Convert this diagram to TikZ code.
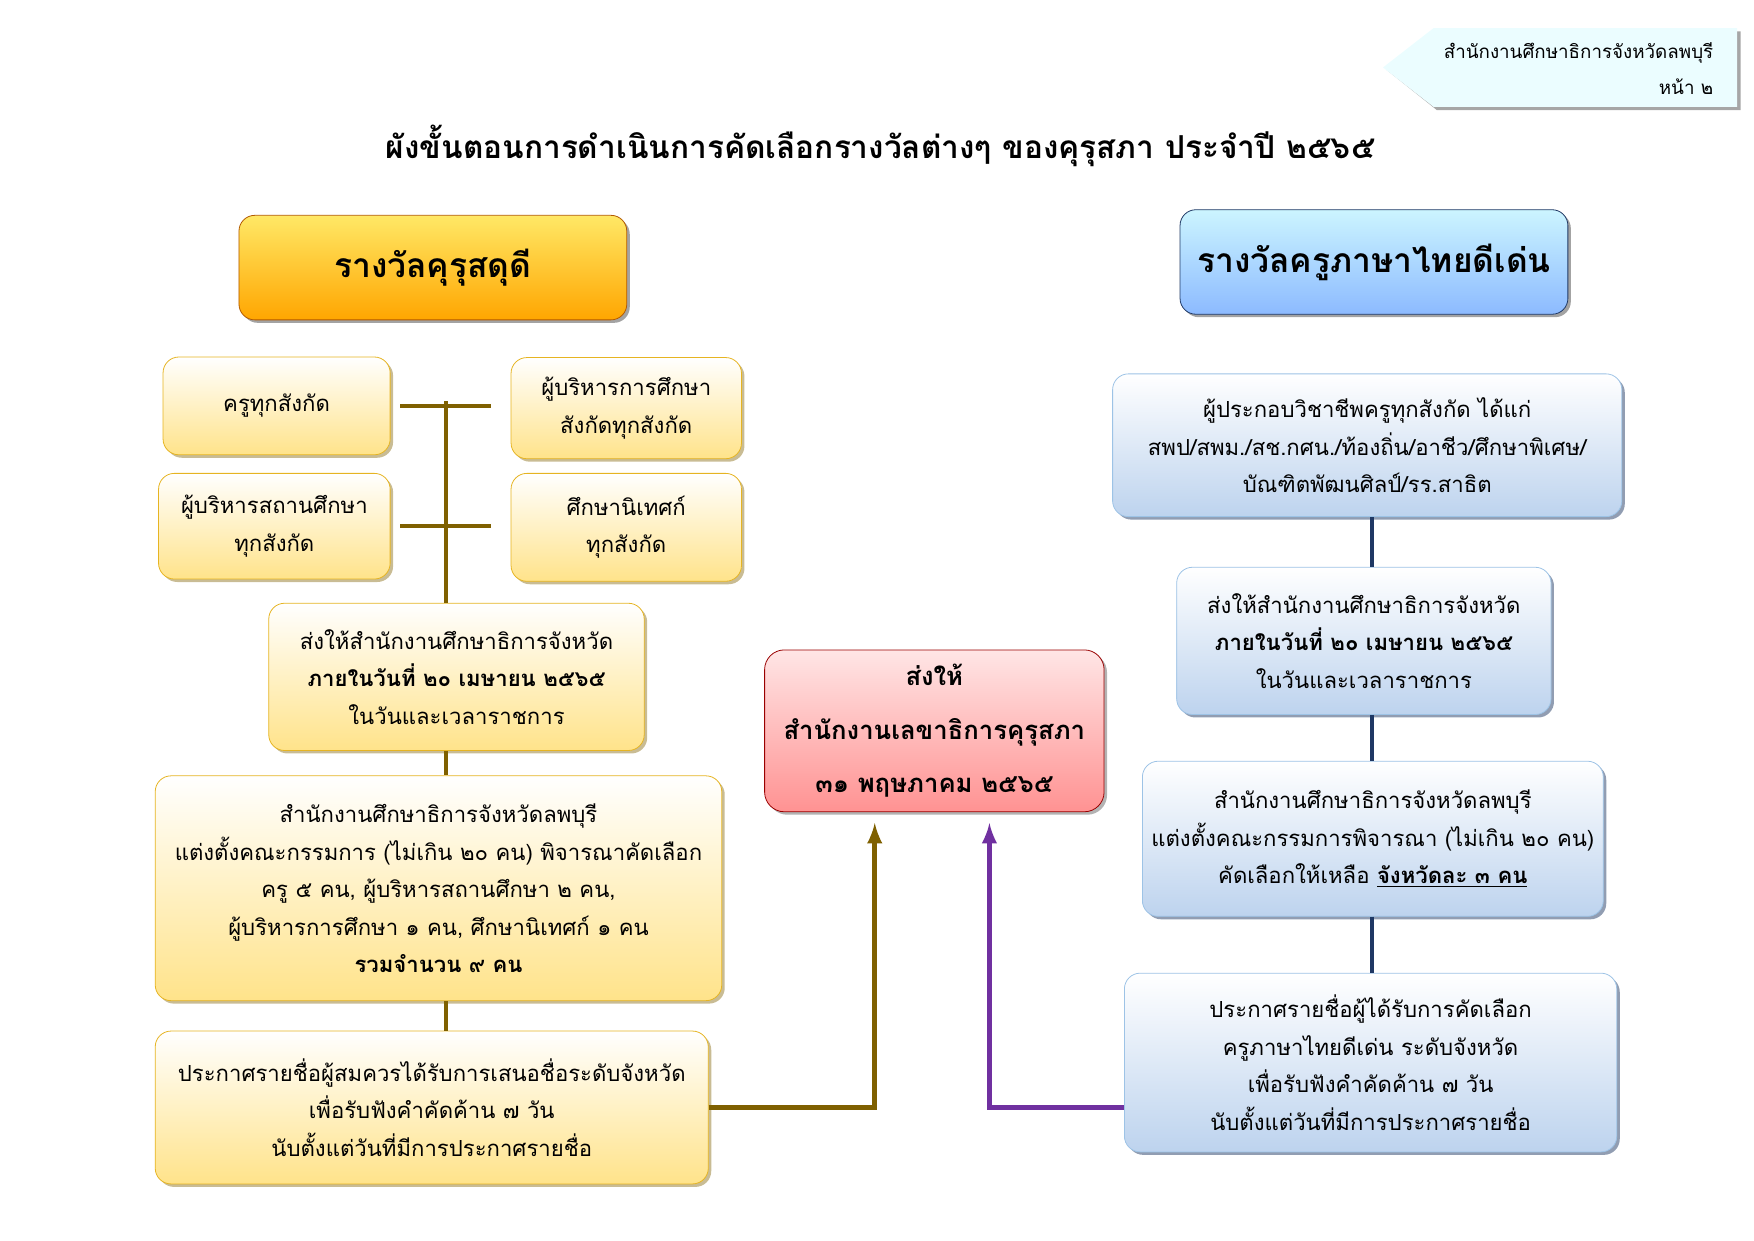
\documentclass[tikz,border=0pt]{standalone}
\usepackage{fontspec}
\setmainfont[Script=Thai]{Loma}
\usetikzlibrary{positioning,shadows}
\tikzset{>=latex}
\definecolor{olive}{HTML}{7F6000}
\definecolor{goldline}{HTML}{E6B422}
\definecolor{goldfill}{HTML}{FFE38A}
\definecolor{blueline}{HTML}{9DC3E6}
\definecolor{bluefill}{HTML}{BDD3EE}
\definecolor{navy}{HTML}{1F3864}
\definecolor{violet}{HTML}{7030A0}
\tikzset{
  size/.style 2 args={minimum width=#1*0.2mm, minimum height=#2*0.2mm},
  gold/.style={draw=goldline, rounded corners=8pt, top color=white, bottom color=goldfill,
    drop shadow={shadow xshift=1.5pt, shadow yshift=-1.5pt, fill=olive!60, opacity=.7},
    align=center, font=\fontsize{11.2}{19}\selectfont, inner sep=0pt},
  sky/.style={draw=blueline, rounded corners=8pt, top color=white, bottom color=bluefill,
    drop shadow={shadow xshift=1.5pt, shadow yshift=-1.5pt, fill=navy!70, opacity=.7},
    align=center, font=\fontsize{11.2}{19}\selectfont, inner sep=0pt},
  head/.style={rounded corners=8pt, align=center, font=\fontsize{17}{22}\selectfont\bfseries,
    drop shadow={shadow xshift=1.5pt, shadow yshift=-1.5pt, fill=black!60, opacity=.6}},
  link/.style={line width=2pt}
}
\begin{document}
\begin{tikzpicture}[x=0.02cm, y=-0.02cm]
  \useasboundingbox (0,0) rectangle (1560,1103);

  % Page tag
  \fill[black!35] (1233,62) -- (1278,28) -- (1548,28) -- (1548,98) -- (1278,98) -- cycle;
  \fill[blue!10!cyan!8!white] (1230,60) -- (1275,25) -- (1545,25) -- (1545,95) -- (1275,95) -- cycle;
  \node[anchor=east, font=\fontsize{9.5}{12}\selectfont] (tag1) at (1530,47) {สำนักงานศึกษาธิการจังหวัดลพบุรี};
  \node[anchor=east, font=\fontsize{9.5}{12}\selectfont] (tag2) at (1530,77) {หน้า ๒};

  % Title
  \node[font=\fontsize{16}{20}\selectfont\bfseries] (title) at (783,130)
    {ผังขั้นตอนการดำเนินการคัดเลือกรางวัลต่างๆ ของคุรุสภา ประจำปี ๒๕๖๕};

  % Headers
  \node[head, draw=orange!70!black, top color=yellow!70!orange!60, bottom color=orange!70!yellow, size={345}{93}]
    (lhead) at (385,238) {รางวัลคุรุสดุดี};
  \node[head, draw=navy, top color=blue!20!cyan!20, bottom color=blue!60!cyan!45!white, size={345}{93}]
    (rhead) at (1222,233) {รางวัลครูภาษาไทยดีเด่น};

  % Left column
  \node[gold, size={202}{87}] (teach) at (246,361) {ครูทุกสังกัด};
  \node[gold, size={205}{90}] (admin) at (557,363) {ผู้บริหารการศึกษา\\สังกัดทุกสังกัด};
  \node[gold, size={206}{94}] (school) at (244,468) {ผู้บริหารสถานศึกษา\\ทุกสังกัด};
  \node[gold, size={205}{96}] (super) at (557,469) {ศึกษานิเทศก์\\ทุกสังกัด};
  \node[gold, size={334}{131}] (lsend) at (406,602)
    {ส่งให้สำนักงานศึกษาธิการจังหวัด\\\textbf{ภายในวันที่ ๒๐ เมษายน ๒๕๖๕}\\ในวันและเวลาราชการ};
  \node[gold, size={504}{200}] (lcomm) at (390,790)
    {สำนักงานศึกษาธิการจังหวัดลพบุรี\\แต่งตั้งคณะกรรมการ (ไม่เกิน ๒๐ คน) พิจารณาคัดเลือก\\ครู ๕ คน, ผู้บริหารสถานศึกษา ๒ คน,\\ผู้บริหารการศึกษา ๑ คน, ศึกษานิเทศก์ ๑ คน\\\textbf{รวมจำนวน ๙ คน}};
  \node[gold, size={492}{136}] (lann) at (384,985)
    {ประกาศรายชื่อผู้สมควรได้รับการเสนอชื่อระดับจังหวัด\\เพื่อรับฟังคำคัดค้าน ๗ วัน\\นับตั้งแต่วันที่มีการประกาศรายชื่อ};

  % Centre
  \node[draw=red!60!black, rounded corners=10pt, top color=pink!40, bottom color=red!30!pink!90,
    drop shadow={shadow xshift=1.5pt, shadow yshift=-1.5pt, fill=black!50, opacity=.6},
    align=center, font=\fontsize{13}{27}\selectfont\bfseries, size={302}{144}] (ksp) at (831,650)
    {ส่งให้\\สำนักงานเลขาธิการคุรุสภา\\๓๑ พฤษภาคม ๒๕๖๕};

  % Right column
  \node[sky, size={453}{127}] (rcand) at (1216,396)
    {ผู้ประกอบวิชาชีพครูทุกสังกัด ได้แก่\\สพป/สพม./สช.กศน./ท้องถิ่น/อาชีว/ศึกษาพิเศษ/\\บัณฑิตพัฒนศิลป์/รร.สาธิต};
  \node[sky, size={333}{131}] (rsend) at (1213,570)
    {ส่งให้สำนักงานศึกษาธิการจังหวัด\\\textbf{ภายในวันที่ ๒๐ เมษายน ๒๕๖๕}\\ในวันและเวลาราชการ};
  \node[sky, size={410}{138}] (rcomm) at (1221,746)
    {สำนักงานศึกษาธิการจังหวัดลพบุรี\\แต่งตั้งคณะกรรมการพิจารณา (ไม่เกิน ๒๐ คน)\\คัดเลือกให้เหลือ \textbf{\underline{จังหวัดละ ๓ คน}}};
  \node[sky, size={438}{159}] (rann) at (1219,945)
    {ประกาศรายชื่อผู้ได้รับการคัดเลือก\\ครูภาษาไทยดีเด่น ระดับจังหวัด\\เพื่อรับฟังคำคัดค้าน ๗ วัน\\นับตั้งแต่วันที่มีการประกาศรายชื่อ};

  % Connectors
  \coordinate (ltrunk) at (397,357);
  \coordinate (rtrunk) at (1220,460);
  \coordinate (lin) at (778,732);
  \coordinate (rin) at (880,732);
  \begin{scope}[olive, link]
    \draw ([xshift=5pt]teach.east) -- ([xshift=-10pt]teach.east -| admin.west);
    \draw ([xshift=5pt]school.east) -- ([xshift=-10pt]school.east -| super.west);
    \draw (ltrunk) -- (ltrunk |- lsend.north);
    \draw (lsend.south -| ltrunk) -- (lcomm.north -| ltrunk);
    \draw (lcomm.south -| ltrunk) -- (lann.north -| ltrunk);
    \draw[->, line width=2.5pt] (lann.east) -| (lin);
  \end{scope}
  \begin{scope}[navy, link]
    \draw (rcand.south -| rtrunk) -- (rsend.north -| rtrunk);
    \draw (rsend.south -| rtrunk) -- (rcomm.north -| rtrunk);
    \draw (rcomm.south -| rtrunk) -- (rann.north -| rtrunk);
  \end{scope}
  \draw[violet, ->, line width=2.5pt] (rann.west |- lann.east) -| (rin);
\end{tikzpicture}
\end{document}
